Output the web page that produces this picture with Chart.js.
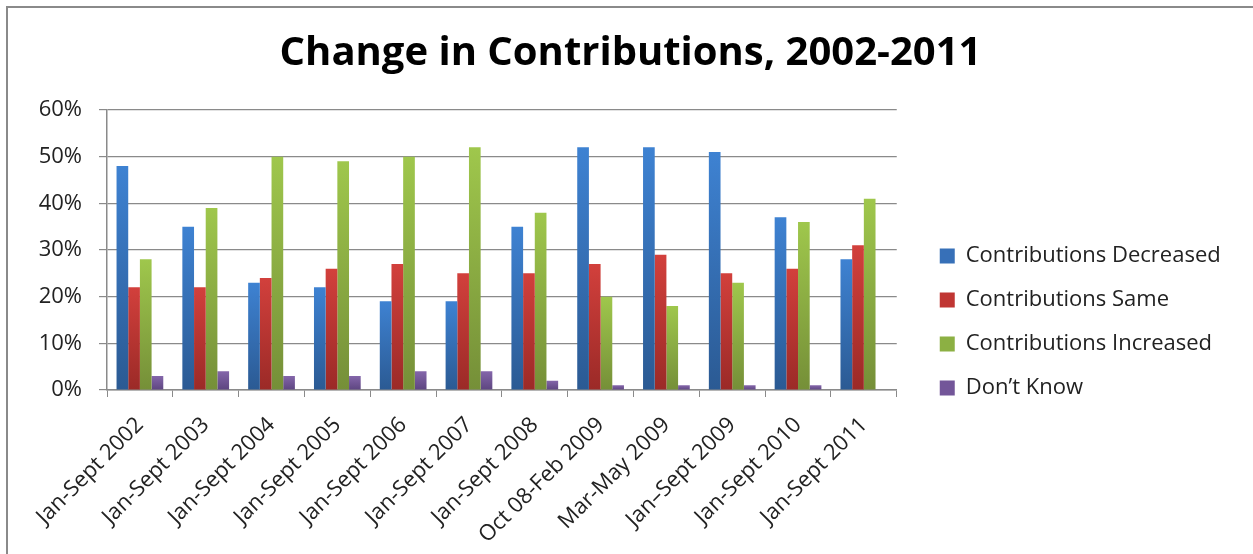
<!DOCTYPE html>
<html lang="en">
<head>
  <meta charset="utf-8" />
  <title>Change in Contributions, 2002-2011</title>
  <style>
html, body { margin: 0; padding: 0; background: #fff; }
#chartContainer {
  position: absolute;
  left: 6px;
  top: 6px;
  width: 1245px;
  height: 546px;
  border-left: 2px solid #8a8a8a;
  border-top: 2px solid #8a8a8a;
}
  </style>
</head>
<body>
  <div id="chartContainer">
    <canvas id="myChart"></canvas>
  </div>
  <script src="https://cdn.jsdelivr.net/npm/chart.js"></script>
  <script>

const periods = ['Jan-Sept 2002', 'Jan-Sept 2003', 'Jan-Sept 2004', 'Jan-Sept 2005', 'Jan-Sept 2006', 'Jan-Sept 2007',
  'Jan-Sept 2008', 'Oct 08-Feb 2009', 'Mar-May 2009', 'Jan\u2013Sept 2009', 'Jan-Sept 2010', 'Jan-Sept 2011'];
const decreased = [48, 35, 23, 22, 19, 19, 35, 52, 52, 51, 37, 28];
const same      = [22, 22, 24, 26, 27, 25, 25, 27, 29, 25, 26, 31];
const increased = [28, 39, 50, 49, 50, 52, 38, 20, 18, 23, 36, 41];
const dontKnow  = [3, 4, 3, 3, 4, 4, 2, 1, 1, 1, 1, null];
const yTicks = [0, 10, 20, 30, 40, 50, 60];

// light at the top of each bar, darker at its base
function barFill(light, dark, flat) {
  return function (ctx) {
    if (ctx.type !== 'data' || ctx.raw == null) return flat;
    const y = ctx.chart.scales.y;
    if (!y) return flat;
    const top = y.getPixelForValue(ctx.raw);
    const base = y.getPixelForValue(0);
    if (!isFinite(top) || !isFinite(base) || base - top < 1) return flat;
    const g = ctx.chart.ctx.createLinearGradient(0, top, 0, base);
    g.addColorStop(0, light);
    g.addColorStop(1, dark);
    return g;
  };
}

function series(label, values, light, dark, flat) {
  return {
    label: label,
    data: values,
    backgroundColor: barFill(light, dark, flat),
    legendColor: flat,
    borderWidth: 0,
    categoryPercentage: 0.71,
    barPercentage: 1.0
  };
}

const textFont = { family: "'Open Sans', sans-serif", size: 22 };

// title centred on the whole canvas, legend pushed right and down
const boxTweaks = {
  id: 'boxTweaks',
  afterLayout: function (chart) {
    const t = chart.titleBlock;
    if (t) {
      t.left = 0;
      t.right = chart.width;
      t.width = chart.width;
    }
    const lg = chart.legend;
    if (lg) {
      lg.left += 21;
      lg.right = chart.width;
      lg.width = lg.right - lg.left;
      lg.top += 41;
      lg.bottom += 41;
    }
  }
};

const config = {
  type: 'bar',
  data: {
    labels: periods,
    datasets: [
      series('Contributions Decreased', decreased, '#3e82d2', '#2b5a93', '#3770b8'),
      series('Contributions Same', same, '#d2403c', '#9b2a27', '#c03633'),
      series('Contributions Increased', increased, '#9fc74c', '#758f38', '#8cb043'),
      series('Don\u2019t Know', dontKnow, '#8466aa', '#5d4580', '#735699')
    ]
  },
  plugins: [boxTweaks],
  options: {
    responsive: true,
    maintainAspectRatio: false,
    animation: false,
    layout: { padding: { left: 0, right: 60, top: 0, bottom: 0 } },
    plugins: {
      tooltip: { enabled: false },
      title: {
        display: true,
        text: 'Change in Contributions, 2002-2011',
        color: '#000',
        font: { family: "'Open Sans', sans-serif", size: 40, weight: 'bold' },
        padding: { top: 22, bottom: 32 }
      },
      legend: {
        position: 'right',
        align: 'center',
        labels: {
          color: '#222',
          font: textFont,
          boxWidth: 15,
          boxHeight: 15,
          padding: 22,
          generateLabels: function (chart) {
            return chart.data.datasets.map(function (ds, i) {
              return {
                text: ds.label,
                fillStyle: ds.legendColor,
                strokeStyle: ds.legendColor,
                lineWidth: 0,
                hidden: false,
                datasetIndex: i,
                fontColor: '#222'
              };
            });
          }
        }
      }
    },
    scales: {
      x: {
        grid: {
          display: true,
          drawOnChartArea: false,
          drawTicks: true,
          tickLength: 7,
          color: '#8a8a8a',
          offset: true
        },
        border: { display: true, color: '#8a8a8a', width: 1.5 },
        ticks: {
          color: '#222',
          font: textFont,
          minRotation: 45,
          maxRotation: 45,
          autoSkip: false,
          padding: 15
        },
        afterFit: function (scale) { scale.height = 164; }
      },
      y: {
        min: 0,
        max: 60,
        afterBuildTicks: function (scale) {
          scale.ticks = yTicks.map(function (v) { return { value: v }; });
        },
        grid: {
          color: '#8a8a8a',
          lineWidth: 1.2,
          tickLength: 8
        },
        border: { display: true, color: '#8a8a8a', width: 1.5 },
        ticks: {
          color: '#222',
          font: textFont,
          padding: 17,
          callback: function (value) { return value + '%'; }
        },
        afterFit: function (scale) { scale.width = 99; }
      }
    }
  }
};

const chart = new Chart(document.getElementById('myChart'), config);

  </script>
</body>
</html>
